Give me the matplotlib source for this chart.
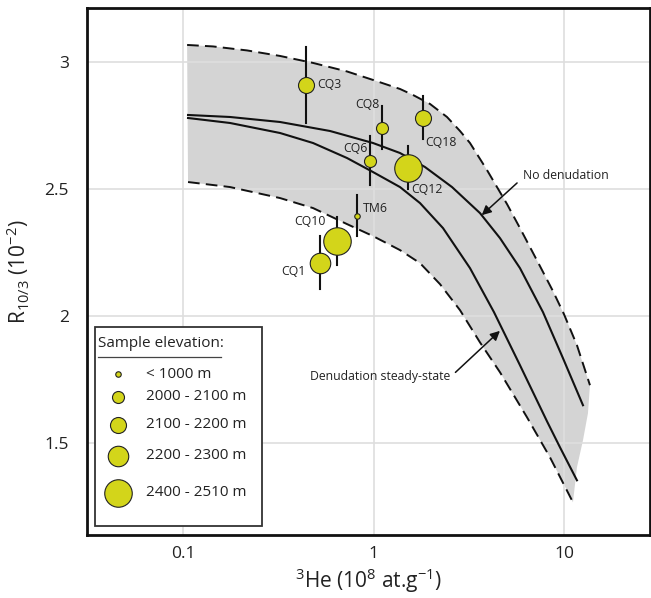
import matplotlib
matplotlib.use("Agg")
import matplotlib.pyplot as plt
from matplotlib.patches import Rectangle, Polygon
from matplotlib.lines import Line2D

plt.rcParams['font.family'] = ['Open Sans', 'DejaVu Sans']
plt.rcParams['mathtext.fontset'] = 'custom'
plt.rcParams['mathtext.rm'] = 'Open Sans'
plt.rcParams['mathtext.it'] = 'Open Sans:italic'
plt.rcParams['mathtext.bf'] = 'Open Sans:bold'

# ---------------- data ----------------
samples = ['CQ3', 'CQ8', 'CQ18', 'CQ6', 'CQ12', 'TM6', 'CQ10', 'CQ1']
he3 = [0.444, 1.107, 1.81, 0.96, 1.51, 0.82, 0.645, 0.526]
r103 = [2.909, 2.74, 2.78, 2.61, 2.583, 2.394, 2.295, 2.209]
r103_err = [0.15, 0.085, 0.083, 0.096, 0.085, 0.081, 0.093, 0.104]
elev_class = [2, 1, 2, 1, 4, 0, 4, 3]
elev_labels = ['< 1000 m', '2000 - 2100 m', '2100 - 2200 m', '2200 - 2300 m', '2400 - 2510 m']

# envelope (dashed) curves
upper_x = [0.105, 0.1437, 0.2168, 0.3229, 0.4814, 0.7258, 0.994, 1.3774, 1.6118, 1.9803,
           2.4314, 2.8454, 3.2107, 3.9429, 5.0221, 5.875, 7.4817, 8.7566, 10.0, 11.7, 13.694]
upper_y = [3.0657, 3.0598, 3.0441, 3.0224, 2.9949, 2.9614, 2.928, 2.8925, 2.8689, 2.8335,
           2.7823, 2.7272, 2.6799, 2.5736, 2.4398, 2.3453, 2.1957, 2.0972, 2.0067, 1.8846, 1.7272]
lower_x = [0.1062, 0.1764, 0.3229, 0.4814, 0.7258, 0.994, 1.3774, 1.7542, 2.234, 2.8454,
           3.6228, 4.6132, 6.3953, 8.4431, 11.149]
lower_y = [2.5264, 2.5067, 2.4634, 2.424, 2.361, 2.3138, 2.2587, 2.2075, 2.1248, 2.0224,
           1.8957, 1.7783, 1.6012, 1.4437, 1.2665]
cap_x = [13.366, 12.585, 11.7]
cap_y = [1.6169, 1.5106, 1.4043]

# model curves
nodenud_x = [0.1062, 0.1764, 0.3229, 0.5909, 0.994, 1.3774, 1.8637, 2.5832, 3.6228, 4.6132,
             5.875, 7.759, 9.881, 12.585]
nodenud_y = [2.7902, 2.7823, 2.7626, 2.7272, 2.6799, 2.6406, 2.5854, 2.5067, 2.4043, 2.3059,
             2.1878, 2.0146, 1.8335, 1.6484]
steady_x = [0.1062, 0.1764, 0.3229, 0.4814, 0.7258, 0.994, 1.3774, 1.7542, 2.3164, 3.2107,
            4.2907, 5.875, 8.1431, 9.5281, 11.7]
steady_y = [2.7783, 2.7587, 2.7193, 2.6799, 2.6209, 2.5657, 2.5067, 2.4437, 2.3453, 2.1878,
            2.0146, 1.8059, 1.5854, 1.4831, 1.3531]

# ---------------- styling ----------------
marker_diam_px = [5.5, 12, 16, 20.5, 27.5]
px2pt = 0.72
face = '#d3d51a'
ink = '#111111'
txt = '#222222'

fig = plt.figure(figsize=(6.51, 5.98), dpi=100)
ax = fig.add_axes([87/651, 1-535/598, 563/651, 527/598])
ax.set_xscale('log')
ax.set_xlim(0.0313, 28.3)
ax.set_ylim(1.138, 3.211)

# band
poly_pts = list(zip(upper_x, upper_y)) + list(zip(cap_x, cap_y)) + list(zip(lower_x[::-1], lower_y[::-1]))
ax.add_patch(Polygon(poly_pts, closed=True, facecolor='#d4d4d4', edgecolor='none', zorder=0.3))

ax.grid(True, which='major', color='#dedede', linewidth=1.2)
ax.set_axisbelow(True)
ax.set_xticks([0.1, 1, 10])
ax.set_xticklabels(['0.1', '1', '10'])
ax.set_yticks([1.5, 2, 2.5, 3])
ax.set_yticklabels(['1.5', '2', '2.5', '3'])
ax.minorticks_off()
ax.tick_params(axis='x', length=0, labelsize=12.5, pad=8, colors=txt)
ax.tick_params(axis='y', length=0, labelsize=12.5, pad=13, colors=txt)
for s in ax.spines.values():
    s.set_linewidth(2.0)
    s.set_color(ink)

dash = (0, (6, 3.2))
ax.plot(upper_x, upper_y, color=ink, lw=1.4, linestyle=dash, zorder=2)
ax.plot(lower_x, lower_y, color=ink, lw=1.4, linestyle=dash, zorder=2)
ax.plot(nodenud_x, nodenud_y, color=ink, lw=1.5, zorder=2, solid_joinstyle='round')
ax.plot(steady_x, steady_y, color=ink, lw=1.5, zorder=2, solid_joinstyle='round')

# error bars and points
for x, y, e, c in zip(he3, r103, r103_err, elev_class):
    ax.plot([x, x], [y - e, y + e], color=ink, lw=1.5, zorder=3)
    ax.plot([x], [y], 'o', markersize=marker_diam_px[c]*px2pt, markerfacecolor=face,
            markeredgecolor=txt, markeredgewidth=0.8, zorder=4)

offsets = {'CQ3': (11, 0, 'left'), 'CQ8': (-15, 23, 'center'), 'CQ18': (18, -25, 'center'),
           'CQ6': (-15, 12, 'center'), 'CQ12': (19, -22, 'center'), 'TM6': (6, 7, 'left'),
           'CQ10': (-27, 19, 'center'), 'CQ1': (-27, -9, 'center')}
for name, x, y in zip(samples, he3, r103):
    dx, dy, ha = offsets[name]
    ax.annotate(name, (x, y), xytext=(dx*px2pt, dy*px2pt), textcoords='offset points',
                ha=ha, va='center', fontsize=8.8, color=txt, zorder=5)

# annotations
ax.annotate('No denudation', xy=(3.70, 2.396), xytext=(6.09, 2.554), fontsize=8.8,
            ha='left', va='center', color=txt,
            arrowprops=dict(arrowstyle='-|>', color=ink, lw=1.1,
                            mutation_scale=14, shrinkA=3, shrinkB=0, relpos=(0.0, 0.3)))
ax.annotate('Denudation steady-state', xy=(4.61, 1.941), xytext=(0.466, 1.76), fontsize=8.8,
            ha='left', va='center', color=txt,
            arrowprops=dict(arrowstyle='-|>', color=ink, lw=1.1,
                            mutation_scale=14, shrinkA=2, shrinkB=0, relpos=(1.0, 0.5)))

ax.set_xlabel(r'$^{3}$He (10$^{8}$ at.g$^{-1}$)', fontsize=15, labelpad=3, color=txt)
ax.set_ylabel(r'R$_{10/3}$ (10$^{-2}$)', fontsize=15, labelpad=9, color=txt)

# custom legend
ax.add_patch(Rectangle((0.0142, 0.017), 0.297, 0.378, transform=ax.transAxes,
                       facecolor='white', edgecolor='#333333', linewidth=1.3, zorder=6))
ax.text(0.0195, 0.364, 'Sample elevation:', transform=ax.transAxes, fontsize=11,
        ha='left', va='center', color=txt, zorder=7)
ax.add_line(Line2D([0.0195, 0.0195 + 123/563], [0.337, 0.337], transform=ax.transAxes,
                   color='#444444', lw=0.9, zorder=7))
row_y = [0.3055, 0.262, 0.209, 0.15, 0.0797]
for i, (lab, yy) in enumerate(zip(elev_labels, row_y)):
    ax.plot([0.055], [yy], 'o', transform=ax.transAxes, markersize=marker_diam_px[i]*px2pt,
            markerfacecolor=face, markeredgecolor=txt, markeredgewidth=0.8, zorder=7,
            clip_on=False)
    ax.text(0.105, yy, lab, transform=ax.transAxes, fontsize=11, ha='left', va='center',
            color=txt, zorder=7)

fig.savefig('out.png', dpi=100)
